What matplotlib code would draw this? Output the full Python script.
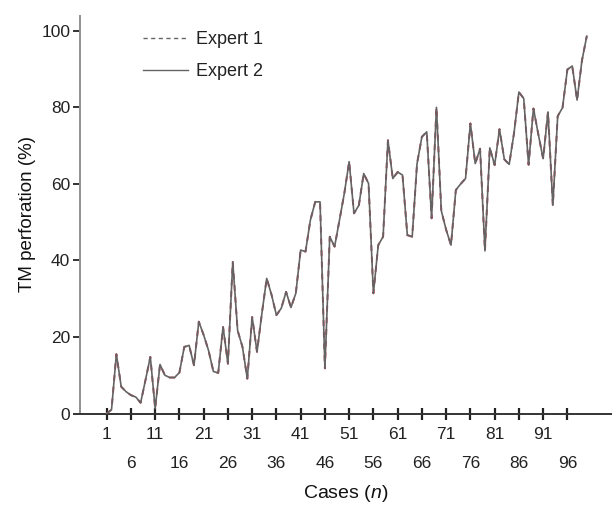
import numpy as np
import matplotlib
matplotlib.use('Agg')
import matplotlib.pyplot as plt
from matplotlib.lines import Line2D

plt.rcParams['font.family'] = ['Liberation Sans', 'DejaVu Sans']
plt.rcParams['mathtext.fontset'] = 'custom'
plt.rcParams['mathtext.it'] = 'Liberation Sans:italic'
plt.rcParams['mathtext.rm'] = 'Liberation Sans'

# TM perforation (%) read for each case by two experts
cases = list(range(1, 101))
expert2 = [0, 1, 15.5, 7, 5.7, 4.8, 4.3, 2.8, 8.7, 14.8,
           1.3, 12.8, 10, 9.4, 9.4, 10.7, 17.4, 17.8, 12.6, 24,
           20.5, 16.5, 11, 10.6, 22.6, 13, 39.6, 21.7, 17.4, 9.1,
           25.2, 16.1, 26.1, 35.3, 31, 25.7, 27.5, 31.8, 27.7, 31.4,
           42.7, 42.3, 50.5, 55.3, 55.3, 11.8, 46.2, 43.6, 50.5, 57.5,
           65.8, 52.3, 54.4, 62.7, 60.1, 31.4, 44, 46.2, 71.4, 61.4,
           63.1, 62.3, 46.6, 46.2, 65.3, 72.3, 73.6, 51, 80, 53,
           48, 44, 58.4, 60, 61.4, 75.8, 65.3, 69.2, 42.5, 69.4,
           64.9, 74.3, 66.4, 65.1, 73.3, 84, 82.3, 65, 79.7, 73,
           66.6, 78.8, 54.4, 77.7, 79.9, 89.9, 90.8, 81.9, 92.2, 98.6]
expert1 = list(expert2)

xticks_top = list(range(1, 100, 10))     # 1, 11, ... 91
xticks_low = list(range(6, 100, 10))     # 6, 16, ... 96
yticks = [0, 20, 40, 60, 80, 100]

fig = plt.figure(figsize=(6.12, 5.05), dpi=100)
ax = fig.add_axes([80 / 612, 1 - 413.5 / 505, 532 / 612, 398 / 505])

gray = '#646464'
ax.plot(cases, expert1, color='#b04050', lw=1.4, ls=(0, (3, 3)), zorder=2)
ax.plot(cases, expert2, color=gray, lw=1.2, zorder=3)

ax.set_xlim(-4.5, 105.2)
ax.set_ylim(0, 104)

for s in ['top', 'right']:
    ax.spines[s].set_visible(False)
ax.spines['left'].set_color('#909090')
ax.spines['left'].set_linewidth(1.4)
ax.spines['bottom'].set_color('#333333')
ax.spines['bottom'].set_linewidth(1.4)

ax.set_yticks(yticks)
ax.tick_params(axis='y', direction='out', length=5, width=1.4, color='#333333',
               labelsize=12.5, labelcolor='#222222', pad=2)

# two rows of x tick labels
ax.set_xticks(xticks_top)
ax.set_xticks(xticks_low, minor=True)
ax.set_xticklabels([str(t) for t in xticks_top])
ax.set_xticklabels([str(t) for t in xticks_low], minor=True)
ax.tick_params(axis='x', which='both', direction='inout', length=9, width=1.6,
               color='#222222', labelsize=12.5, labelcolor='#222222')
ax.tick_params(axis='x', which='major', pad=5)
ax.tick_params(axis='x', which='minor', pad=26)

ax.set_xlabel('Cases ($\\it{n}$)', fontsize=14, color='#111111', labelpad=9)
ax.set_ylabel('TM perforation (%)', fontsize=13.5, color='#111111', labelpad=4)

handles = [Line2D([], [], color=gray, lw=1.0, ls=(0, (3, 2.5))),
           Line2D([], [], color=gray, lw=1.0)]
fig.legend(handles, ['Expert 1', 'Expert 2'], loc='upper left',
           bbox_to_anchor=(143 / 612, 1 - 31 / 505), frameon=False,
           fontsize=13, handlelength=2.5, handletextpad=0.45,
           labelspacing=0.85, borderpad=0, borderaxespad=0,
           labelcolor='#222222')

fig.savefig('out.png', dpi=100)
